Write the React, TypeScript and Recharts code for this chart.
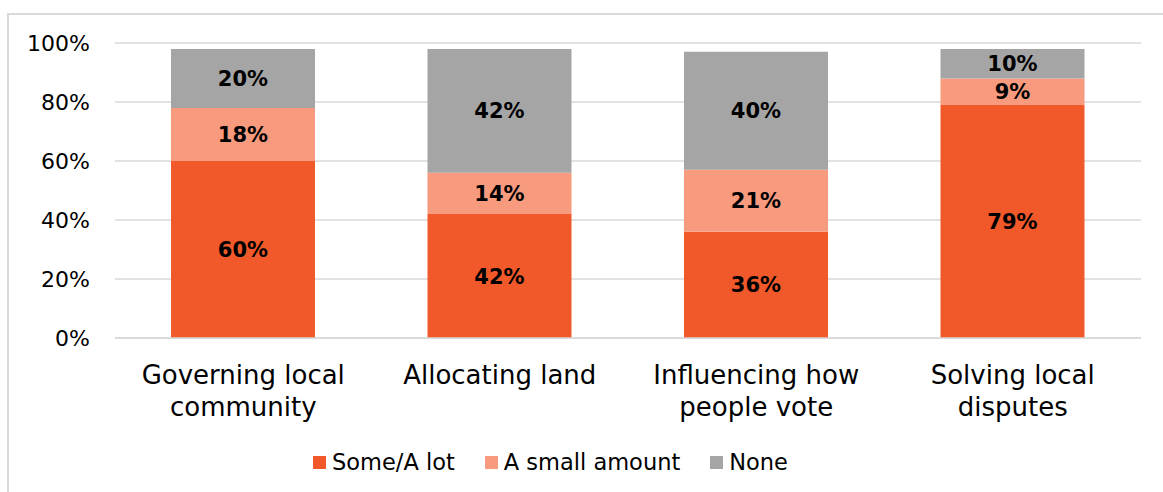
import React from "react";
import { BarChart, Bar, XAxis, YAxis, CartesianGrid, LabelList } from "recharts";

const categories = ["Governing local community", "Allocating land", "Influencing how people vote", "Solving local disputes"];
const categoryLines = [["Governing local", "community"], ["Allocating land"], ["Influencing how", "people vote"], ["Solving local", "disputes"]];
const someALot = [60, 42, 36, 79];
const smallAmount = [18, 14, 21, 9];
const none = [20, 42, 40, 10];
const yTicks = [0, 20, 40, 60, 80, 100];

const seriesNames = ["Some/A lot", "A small amount", "None"];
const colors = ["#F1582A", "#F79A7E", "#A5A5A5"];

const data = categories.map((c, i) => ({
  name: c,
  some: someALot[i],
  small: smallAmount[i],
  none: none[i],
}));

const FONT = "'DejaVu Sans', sans-serif";

const XTick = (props: any) => {
  const { x, y, index } = props;
  const lines = categoryLines[index] || [];
  return (
    <g>
      {lines.map((l, i) => (
        <text key={i} x={x} y={y + 38 + i * 32} textAnchor="middle" fontFamily={FONT} fontSize={26} fill="#000">
          {l}
        </text>
      ))}
    </g>
  );
};

const LegendBlock = () => (
  <div style={{ position: "absolute", left: 313, top: 447, display: "flex", alignItems: "center", fontFamily: FONT, fontSize: 22.5, color: "#000", lineHeight: "30px" }}>
    {seriesNames.map((n, i) => (
      <div key={n} style={{ display: "flex", alignItems: "center", marginRight: i < 2 ? 30 : 0 }}>
        <div style={{ width: 13, height: 13, background: colors[i], marginRight: 6 }} />
        <span>{n}</span>
      </div>
    ))}
  </div>
);

const labelFmt = (v: any) => `${v}%`;

export default function App() {
  return (
    <div style={{ position: "absolute", left: 0, top: 0, width: 1163, height: 492, background: "#fff", overflow: "hidden" }}>
      <div style={{ position: "absolute", left: 7, top: 13, width: 1200, height: 600, borderLeft: "2px solid #D9D9D9", borderTop: "2px solid #D9D9D9" }} />
      <div style={{ position: "absolute", left: 0, top: 0 }}>
        <BarChart width={1163} height={492} data={data} margin={{ top: 43, right: 22, bottom: 64, left: 0 }} barSize={144}>
          <CartesianGrid vertical={false} stroke="#D9D9D9" strokeWidth={1.5} />
          <XAxis dataKey="name" tick={<XTick />} tickLine={false} axisLine={{ stroke: "#D9D9D9", strokeWidth: 1.5 }} interval={0} height={90} />
          <YAxis
            domain={[0, 100]}
            ticks={yTicks}
            tickFormatter={(v) => `${v}%`}
            tickLine={false}
            axisLine={false}
            tickSize={0}
            tickMargin={25}
            width={115}
            tick={{ fontFamily: FONT, fontSize: 22, fill: "#000" }}
          />
          <Bar dataKey="some" stackId="a" fill={colors[0]} isAnimationActive={false}>
            <LabelList dataKey="some" position="center" formatter={labelFmt} fill="#000" fontFamily={FONT} fontSize={21} fontWeight="bold" />
          </Bar>
          <Bar dataKey="small" stackId="a" fill={colors[1]} isAnimationActive={false}>
            <LabelList dataKey="small" position="center" formatter={labelFmt} fill="#000" fontFamily={FONT} fontSize={21} fontWeight="bold" />
          </Bar>
          <Bar dataKey="none" stackId="a" fill={colors[2]} isAnimationActive={false}>
            <LabelList dataKey="none" position="center" formatter={labelFmt} fill="#000" fontFamily={FONT} fontSize={21} fontWeight="bold" />
          </Bar>
        </BarChart>
      </div>
      <LegendBlock />
    </div>
  );
}
